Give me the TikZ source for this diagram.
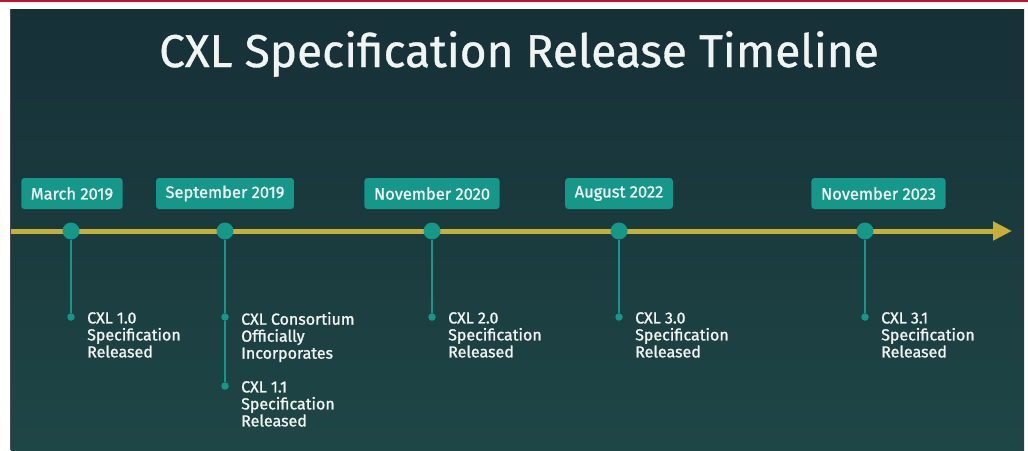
\documentclass[tikz,border=0pt]{standalone}
\usepackage{fontspec}
\setmainfont{Fira Sans}
\newfontfamily\labelfont{Fira Sans}[FakeBold=1.2]
\newfontfamily\titlefont{Fira Sans}[FakeBold=0.8]
\usetikzlibrary{arrows.meta}

\definecolor{panetop}{HTML}{163037}
\definecolor{panebot}{HTML}{1F4646}
\definecolor{milestone}{HTML}{15978A}
\definecolor{axisgold}{HTML}{C6B03A}
\definecolor{rulered}{HTML}{C8102E}
\definecolor{inkwhite}{HTML}{F0F4F2}

\begin{document}
\begin{tikzpicture}[x=1pt, y=-1pt,
    datebox/.style={fill=milestone, rounded corners=3pt, text=inkwhite, font=\labelfont\fontsize{16.5}{18}\selectfont,
                    minimum height=31pt, inner xsep=9.5pt},
    bigdot/.style={shape=circle, fill=milestone, minimum size=17pt, inner sep=0pt},
    smalldot/.style={shape=circle, fill=milestone, minimum size=7.5pt, inner sep=0pt},
    stem/.style={draw=milestone, line width=2pt},
    note/.style={anchor=north west, align=left, inner sep=0pt, text=inkwhite,
                 font=\labelfont\fontsize{16}{17}\selectfont}]
    \useasboundingbox (0,0) rectangle (1028,450);

    % page frame
    \fill[white] (0,0) rectangle (1028,450);
    \fill[rulered] (0,0) rectangle (1028,1.6);
    \shade[top color=panetop, bottom color=panebot] (11,9) rectangle (1024,450);
    \fill[black!70] (10,9) rectangle (11.2,450);

    \node[text=inkwhite, font=\titlefont\fontsize{46}{50}\selectfont] (title) at (519,54) {CXL Specification Release Timeline};

    % time axis
    \coordinate (axisstart) at (11,231);
    \coordinate (axisend) at (1012,231);
    \draw[axisgold, line width=5pt, -{Triangle[length=19pt,width=18pt]}] (axisstart) -- (axisend);

    % dates
    \node[datebox] (d1) at (72,193.5) {March 2019};
    \node[datebox] (d2) at (225,193.5) {September 2019};
    \node[datebox] (d3) at (432,193.5) {November 2020};
    \node[datebox] (d4) at (619,193.5) {August 2022};
    \node[datebox] (d5) at (878.5,193.5) {November 2023};

    % points on the axis
    \node[bigdot] (p1) at (71,231) {};
    \node[bigdot] (p2) at (225,231) {};
    \node[bigdot] (p3) at (432,231) {};
    \node[bigdot] (p4) at (619,231) {};
    \node[bigdot] (p5) at (865,231) {};

    % events
    \node[smalldot] (e1) at (71,317) {};
    \node[smalldot] (e2) at (225,317) {};
    \node[smalldot] (e2b) at (225,386) {};
    \node[smalldot] (e3) at (432,317) {};
    \node[smalldot] (e4) at (619,317) {};
    \node[smalldot] (e5) at (865,317) {};

    \path [stem] (p1) edge (e1);
    \path [stem] (p2) edge (e2);
    \path [stem] (e2) edge (e2b);
    \path [stem] (p3) edge (e3);
    \path [stem] (p4) edge (e4);
    \path [stem] (p5) edge (e5);

    \node[note] (t1) at (87,312) {CXL 1.0\\Specification\\Released};
    \node[note] (t2) at (241,312) {CXL Consortium\\Officially\\Incorporates};
    \node[note] (t2b) at (241,381) {CXL 1.1\\Specification\\Released};
    \node[note] (t3) at (448,312) {CXL 2.0\\Specification\\Released};
    \node[note] (t4) at (635,312) {CXL 3.0\\Specification\\Released};
    \node[note] (t5) at (881,312) {CXL 3.1\\Specification\\Released};

\end{tikzpicture}
\end{document}
